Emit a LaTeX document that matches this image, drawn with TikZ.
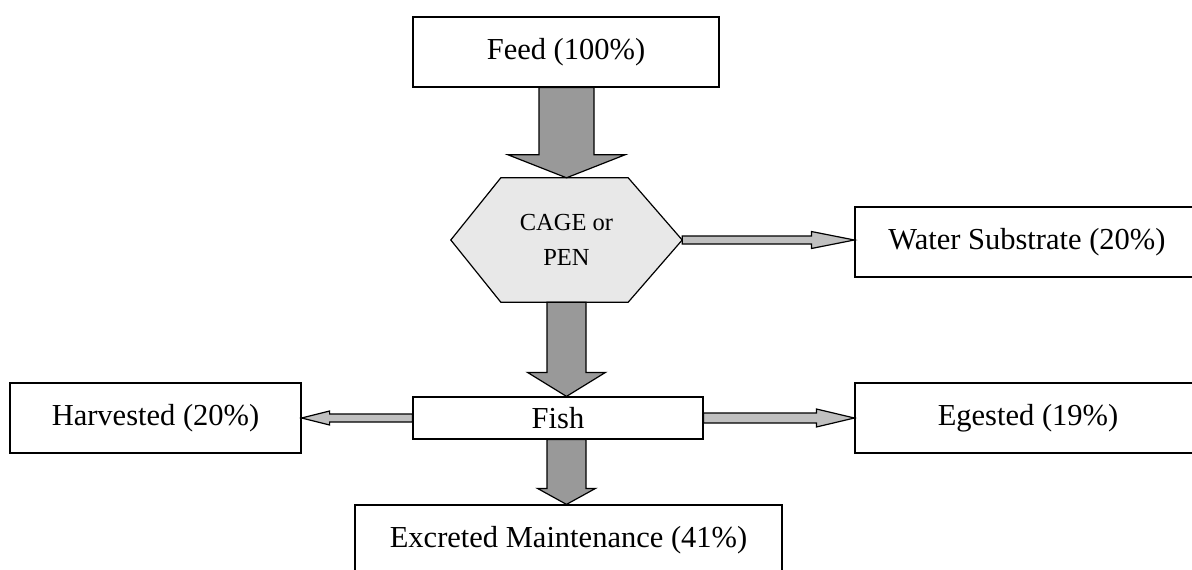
\documentclass[tikz,border=0pt]{standalone}
\usepackage{fontspec}
\setmainfont{Liberation Serif}
\usepackage{tikz}
\usetikzlibrary{calc,backgrounds}
\definecolor{flowgrey}{RGB}{153,153,153}
\definecolor{sidegrey}{RGB}{192,192,192}
\definecolor{cagegrey}{RGB}{232,232,232}
\newcommand{\labelfont}{\fontsize{30.5}{35}\selectfont}
\newcommand{\cagefont}{\fontsize{24.5}{35}\selectfont}
\tikzset{
  box/.style={draw,line width=1.2pt,fill=white,inner sep=0pt,font=\labelfont},
  cagebox/.style={inner sep=0pt,minimum width=231pt,minimum height=124pt,
    align=center,font=\cagefont},
  hexline/.style={draw,line width=1.2pt,fill=cagegrey},
  % shaft half width, head half width, head length
  blockarrow/.style n args={3}{draw,line width=1.2pt,to path={
    let \p1=(\tikztostart), \p2=(\tikztotarget),
        \p3=($(\p2)!#3!(\p1)$) in
    ($(\p1)!#1!90:(\p2)$) -- ($(\p3)!#1!-90:(\p1)$) -- ($(\p3)!#2!-90:(\p1)$)
    -- (\p2) -- ($(\p3)!#2!90:(\p1)$) -- ($(\p3)!#1!90:(\p1)$)
    -- ($(\p1)!#1!-90:(\p2)$) -- cycle}},
  bigflow/.style n args={3}{blockarrow={#1}{#2}{#3},fill=flowgrey},
  sideflow/.style n args={3}{blockarrow={#1}{#2}{#3},fill=sidegrey}
}
\begin{document}
\begin{tikzpicture}[x=1pt,y=-1pt]
  \useasboundingbox (0,0) rectangle (1192,570);
  \node[box,minimum width=306pt,minimum height=70pt] (feed) at (566,52) {Feed (100\%)};
  \node[cagebox] (cage) at (566.5,240) {CAGE or\\PEN};
  \begin{scope}[on background layer]
    \path[hexline] (cage.west) -- ([xshift=50pt]cage.north west)
      -- ([xshift=-54pt]cage.north east) -- (cage.east)
      -- ([xshift=-54pt]cage.south east) -- ([xshift=50pt]cage.south west) -- cycle;
  \end{scope}
  \node[box,minimum width=344pt,minimum height=70pt] (water) at (1027,242) {Water Substrate (20\%)};
  \node[box,minimum width=290pt,minimum height=42pt] (fish) at (558,418) {\raisebox{-3pt}{Fish}};
  \node[box,minimum width=291pt,minimum height=70pt] (harvested) at (155.5,418) {Harvested (20\%)};
  \node[box,minimum width=346pt,minimum height=70pt] (egested) at (1028,418) {Egested (19\%)};
  \node[box,minimum width=427pt,minimum height=70pt] (excreted) at (568.5,540) {Excreted Maintenance (41\%)};

  \draw[bigflow={27.5pt}{58.5pt}{23pt}] (feed.south -| cage.north) to (cage.north);
  \draw[bigflow={19.5pt}{39pt}{24pt}] (cage.south) to (fish.north -| cage.south);
  \draw[bigflow={19.5pt}{29pt}{16pt}] (fish.south -| cage.south) to (excreted.north -| cage.south);
  \draw[sideflow={4pt}{8.5pt}{43pt}] (cage.east) to (cage.east -| water.west);
  \draw[sideflow={4pt}{7pt}{28pt}] (fish.west) to (harvested.east);
  \draw[sideflow={5pt}{9pt}{38pt}] (fish.east) to (egested.west);
\end{tikzpicture}
\end{document}
